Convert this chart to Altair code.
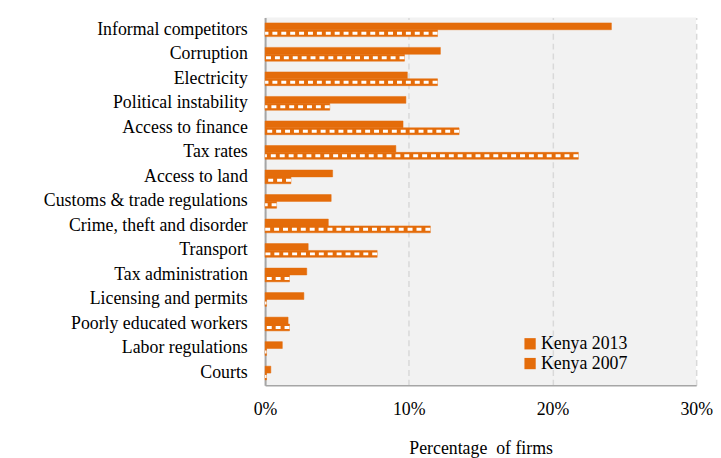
import altair as alt
import pandas as pd

categories = ["Informal competitors", "Corruption", "Electricity", "Political instability",
              "Access to finance", "Tax rates", "Access to land", "Customs & trade regulations",
              "Crime, theft and disorder", "Transport", "Tax administration",
              "Licensing and permits", "Poorly educated workers", "Labor regulations", "Courts"]
v2013 = [24.1, 12.2, 9.9, 9.8, 9.6, 9.1, 4.7, 4.6, 4.4, 3.0, 2.9, 2.7, 1.6, 1.2, 0.4]
v2007 = [12.0, 9.7, 12.0, 4.5, 13.5, 21.8, 1.8, 0.8, 11.5, 7.8, 1.7, 0.1, 1.7, 0.1, 0.1]
series = ["Kenya 2013", "Kenya 2007"]
x_ticks = [0, 10, 20, 30]

rows = []
for c, a, b in zip(categories, v2013, v2007):
    rows.append({"cat": c, "series": series[0], "value": a})
    rows.append({"cat": c, "series": series[1], "value": b})
df = pd.DataFrame(rows)

ORANGE = "#e46c0a"
FONT = "Liberation Serif"
FS = 18

y_enc = alt.Y("cat:N", sort=categories, title=None,
              scale=alt.Scale(paddingInner=0.44, paddingOuter=0.22),
              axis=alt.Axis(labelFont=FONT, labelFontSize=FS, labelColor="#000000",
                            ticks=False, labelPadding=18, domainColor="#a6a6a6",
                            domainWidth=2, labelLimit=300))
yoff = alt.YOffset("series:N", sort=series)
x_enc = alt.X("value:Q", title="Percentage\u00a0 of firms",
              scale=alt.Scale(domain=[0, 30], nice=False),
              axis=alt.Axis(values=x_ticks, labelExpr="datum.value + '%'",
                            labelFont=FONT, labelFontSize=FS, labelColor="#000000",
                            titleFont=FONT, titleFontSize=FS, titleColor="#000000",
                            titleFontWeight="normal", ticks=False, labelPadding=16,
                            titlePadding=21, domainColor="#a6a6a6", domainWidth=1.5,
                            grid=True, gridColor="#d9d9d9", gridDash=[6, 4],
                            gridWidth=1.5, labelFlush=False))

bars = alt.Chart(df).mark_bar(stroke=ORANGE, strokeWidth=0.5).encode(
    y=y_enc, yOffset=yoff, x=x_enc,
    color=alt.Color("series:N", sort=series,
                    scale=alt.Scale(domain=series, range=[ORANGE, ORANGE]),
                    legend=alt.Legend(title=None, orient="none", legendX=259, legendY=321,
                                      labelFont=FONT, labelFontSize=FS, labelColor="#000000",
                                      symbolType="square", symbolSize=130,
                                      symbolStrokeWidth=0, rowPadding=2, labelOffset=2)),
)

hatch = alt.Chart(df).transform_filter(alt.datum.series == "Kenya 2007").mark_rule(
    color="white", strokeWidth=3, strokeDash=[5, 4]
).encode(
    y=alt.Y("cat:N", sort=categories),
    yOffset=yoff,
    x=alt.X("value:Q"),
    x2=alt.datum(0),
)

chart = alt.layer(bars, hatch).properties(
    width=436, height=372, background="white",
    padding={"left": 35, "top": 7, "right": 0, "bottom": 5}
).configure_view(fill="#f2f2f2", stroke=None)

chart.save("out.html", embed_options={"renderer": "svg", "actions": False})
